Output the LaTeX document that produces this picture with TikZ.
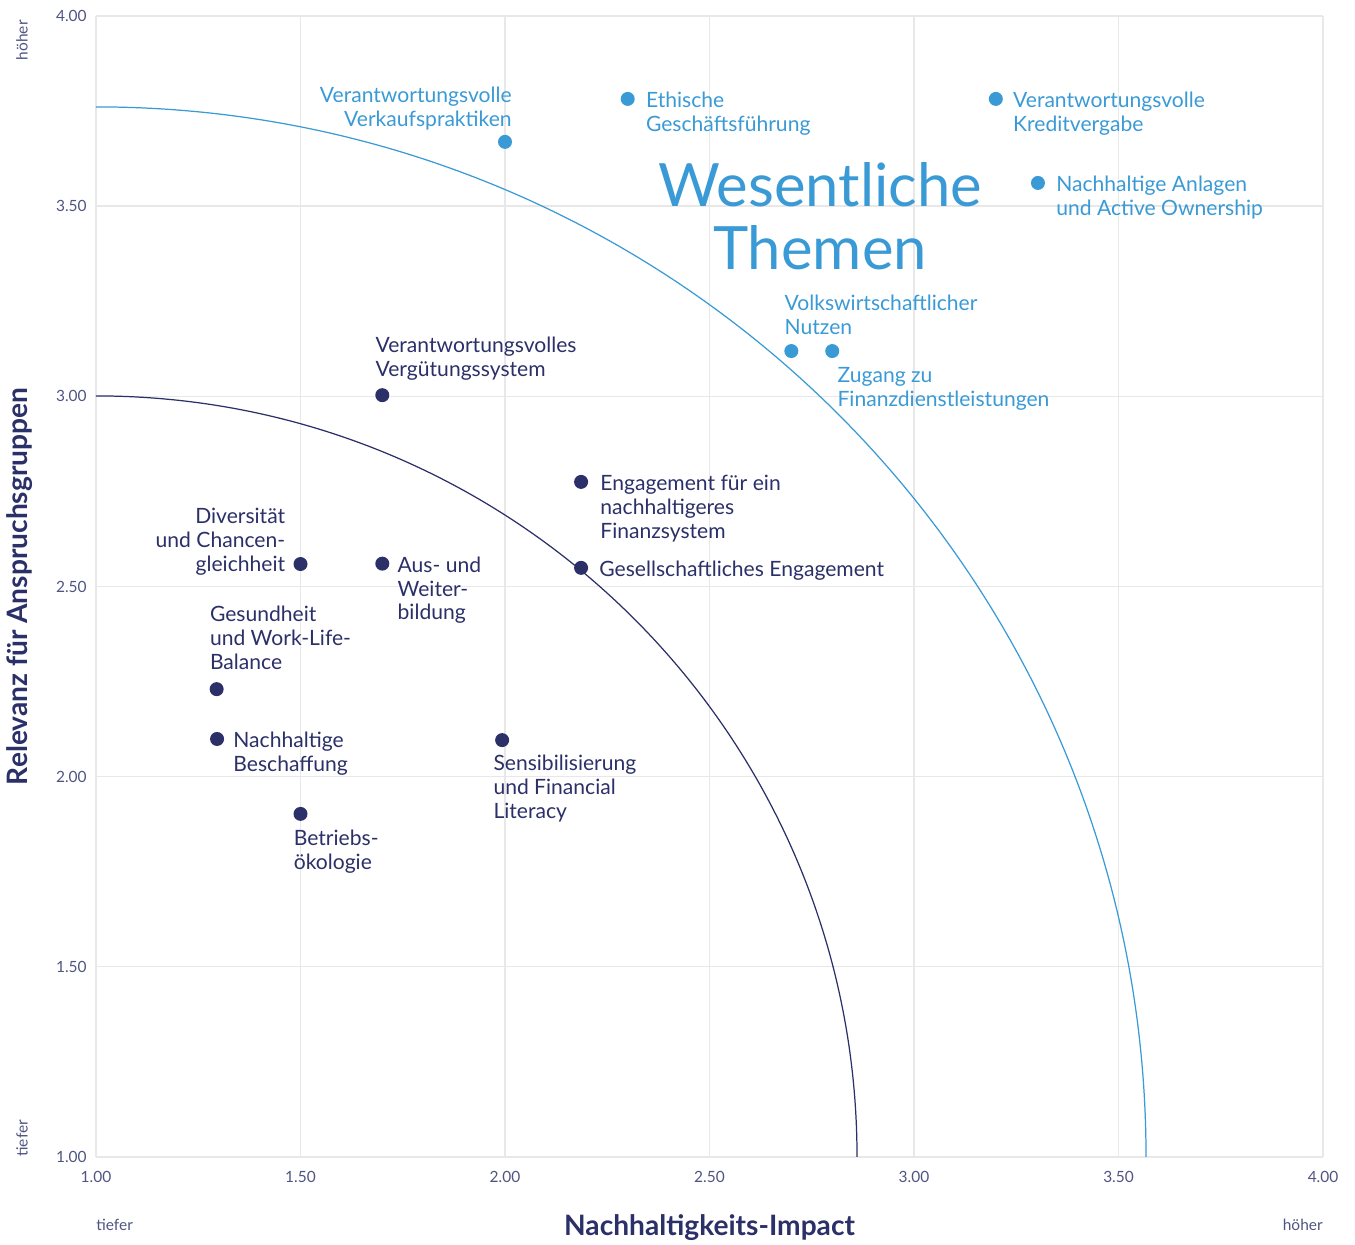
\documentclass[tikz,border=0pt]{standalone}
\usepackage{fontspec}
\setmainfont{Lato}
\usepackage{xcolor}
\usepackage{tikz}
\usetikzlibrary{positioning}
\definecolor{keycol}{HTML}{3A9AD5}
\definecolor{navycol}{HTML}{2B3068}
\definecolor{tickcol}{HTML}{4F5482}
\definecolor{gridcol}{HTML}{E8E8E8}

\begin{document}
\begin{tikzpicture}[
  x=8.18cm, y=7.606cm,
  font=\fontsize{12}{13.6}\selectfont,
  dot/.style={circle,fill,inner sep=0pt,minimum size=0.28cm},
  kdot/.style={dot,keycol},
  ndot/.style={dot,navycol},
  lbl/.style={inner sep=0pt,align=left},
  klbl/.style={lbl,text=keycol},
  nlbl/.style={lbl,text=navycol},
  ticklbl/.style={font=\fontsize{8.8}{10}\selectfont,text=tickcol,inner sep=0pt},
  axtitle/.style={font=\fontsize{16}{18}\selectfont\bfseries,text=navycol,inner sep=0pt},
  ring/.style={line width=0.7pt},
]
\useasboundingbox (0.7653,0.7686) rectangle (4.0782,4.0421);

% grid and frame
\foreach \v in {1,1.5,...,4} {
  \draw[gridcol,line width=0.8pt] (\v,1) -- (\v,4);
  \draw[gridcol,line width=0.8pt] (1,\v) -- (4,\v);
}
\foreach \v [count=\i] in {1.00,1.50,2.00,2.50,3.00,3.50,4.00} {
  \node[ticklbl,anchor=east] (yt\i) at ([xshift=-0.18cm]1,\v) {\v};
  \node[ticklbl] (xt\i) at ([yshift=-0.4cm]\v,1) {\v};
}

% axis words
\node[ticklbl,anchor=west] (xlo) at ([yshift=-1.36cm]1,1) {tiefer};
\node[ticklbl,anchor=east] (xhi) at ([yshift=-1.36cm]4,1) {höher};
\node[ticklbl,rotate=90,anchor=west] (ylo) at ([xshift=-1.48cm]1,1) {tiefer};
\node[ticklbl,rotate=90,anchor=east] (yhi) at ([xshift=-1.48cm,yshift=-0.08cm]1,4) {höher};
\node[axtitle] (xtitle) at ([yshift=-1.42cm]2.5,1) {Nachhaltigkeits-Impact};
\node[axtitle,rotate=90] (ytitle) at ([xshift=-1.52cm]1,2.5) {Relevanz für Anspruchsgruppen};

% thresholds
\draw[ring,keycol] (1,1) ++(0:21cm) arc[start angle=0,end angle=90,radius=21cm];
\draw[ring,navycol] (1,1) ++(0:15.22cm) arc[start angle=0,end angle=90,radius=15.22cm];

\node[text=keycol,align=center,inner sep=0pt,font=\fontsize{34}{36}\selectfont]
  (wesentlich) at (2.77,3.474) {Wesentliche\\Themen};

% material topics
\node[kdot] (verkauf) at (2.00,3.669) {};
\node[klbl,align=right,above=0.08cm of verkauf.north,anchor=south east,xshift=0.14cm] (verkaufT)
  {Verantwortungsvolle\\Verkaufspraktiken};
\node[kdot] (ethik) at (2.30,3.782) {};
\node[klbl,right=0.36cm of ethik.north,anchor=north west] (ethikT) {Ethische\\Geschäftsführung};
\node[kdot] (kredit) at (3.20,3.782) {};
\node[klbl,right=0.34cm of kredit.north,anchor=north west] (kreditT) {Verantwortungsvolle\\Kreditvergabe};
\node[kdot] (anlagen) at (3.303,3.561) {};
\node[klbl,right=0.36cm of anlagen.north,anchor=north west] (anlagenT) {Nachhaltige Anlagen\\und Active Ownership};
\node[kdot] (volks) at (2.70,3.119) {};
\node[klbl,above=0.18cm of volks.north,anchor=south west,xshift=-0.14cm] (volksT) {Volkswirtschaftlicher\\Nutzen};
\node[kdot] (zugang) at (2.80,3.119) {};
\node[klbl,below=0.18cm of zugang.south,anchor=north west,xshift=0.1cm] (zugangT) {Zugang zu\\Finanzdienstleistungen};

% other topics
\node[ndot] (verguet) at (1.70,3.003) {};
\node[nlbl,above=0.14cm of verguet.north,anchor=south west,xshift=-0.14cm] (verguetT) {Verantwortungsvolles\\Vergütungssystem};
\node[ndot] (finanz) at (2.186,2.775) {};
\node[nlbl,right=0.38cm of finanz.north,anchor=north west] (finanzT) {Engagement für ein\\nachhaltigeres\\Finanzsystem};
\node[ndot] (gesell) at (2.186,2.549) {};
\node[nlbl,right=0.36cm of gesell.north,anchor=north west] (gesellT) {Gesellschaftliches Engagement};
\node[ndot] (divers) at (1.50,2.559) {};
\node[nlbl,align=right,below=0.08cm of divers.south,anchor=south east,xshift=-0.3cm] (diversT)
  {Diversität\\und Chancen-\\gleichheit};
\node[ndot] (bildung) at (1.70,2.56) {};
\node[nlbl,right=0.3cm of bildung.north,anchor=north west] (bildungT) {Aus- und\\Weiter-\\bildung};
\node[ndot] (gesund) at (1.295,2.230) {};
\node[nlbl,above=0.24cm of gesund.north,anchor=south west,xshift=-0.14cm] (gesundT) {Gesundheit\\und Work-Life-\\Balance};
\node[ndot] (beschaff) at (1.296,2.099) {};
\node[nlbl,right=0.32cm of beschaff.north,anchor=north west] (beschaffT) {Nachhaltige\\Beschaffung};
\node[ndot] (betrieb) at (1.50,1.902) {};
\node[nlbl,below=0.16cm of betrieb.south,anchor=north west,xshift=-0.14cm] (betriebT) {Betriebs-\\ökologie};
\node[ndot] (sensib) at (1.993,2.096) {};
\node[nlbl,below=0.14cm of sensib.south,anchor=north west,xshift=-0.18cm] (sensibT) {Sensibilisierung\\und Financial\\Literacy};
\end{tikzpicture}
\end{document}
